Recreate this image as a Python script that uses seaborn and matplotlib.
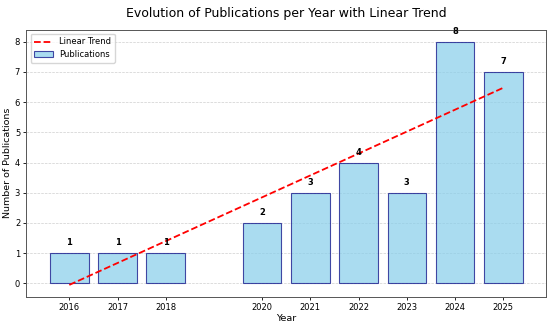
import matplotlib
matplotlib.use("Agg")
import matplotlib.pyplot as plt
import seaborn as sns
import numpy as np
import pandas as pd

years = [2016, 2017, 2018, 2020, 2021, 2022, 2023, 2024, 2025]
publications = [1, 1, 1, 2, 3, 4, 3, 8, 7]
year_labels = [str(y) for y in years]

df = pd.DataFrame({"Year": years, "Publications": publications})
coef = np.polyfit(years, publications, 1)
trend = np.polyval(coef, years)
tdf = pd.DataFrame({"Year": years, "Trend": trend})

fig, ax = plt.subplots(figsize=(5.5, 3.25), dpi=100)
sns.barplot(data=df, x="Year", y="Publications", native_scale=True, color="#87CEEB",
            saturation=1, alpha=0.7, edgecolor="navy", linewidth=0.8, ax=ax,
            label="Publications")
sns.lineplot(data=tdf, x="Year", y="Trend", color="red", linestyle="--", linewidth=1.3,
             ax=ax, label="Linear Trend")

for x, v in zip(years, publications):
    ax.text(x, v + 0.2, str(v), ha="center", va="bottom", fontsize=6, fontweight="bold")

ax.set_xticks(years)
ax.set_xticklabels(year_labels)
ax.tick_params(labelsize=6, length=2.5, pad=2, width=0.6)
ax.set_title("Evolution of Publications per Year with Linear Trend", fontsize=9, pad=9)
ax.set_xlabel("Year", fontsize=6.8, labelpad=1)
ax.set_ylabel("Number of Publications", fontsize=6.8, labelpad=2)
ax.grid(axis="y", linestyle="--", alpha=0.6, linewidth=0.5)
ax.set_axisbelow(True)
for s in ax.spines.values():
    s.set_color("#555555")
    s.set_linewidth(0.7)

handles, labels = ax.get_legend_handles_labels()
order = [labels.index("Linear Trend"), labels.index("Publications")]
ax.legend([handles[i] for i in order], [labels[i] for i in order], loc="upper left",
          fontsize=6, handlelength=2.2, borderpad=0.45, labelspacing=0.45)

fig.subplots_adjust(left=0.048, right=0.993, top=0.909, bottom=0.086)
fig.savefig("out.png", dpi=100)
